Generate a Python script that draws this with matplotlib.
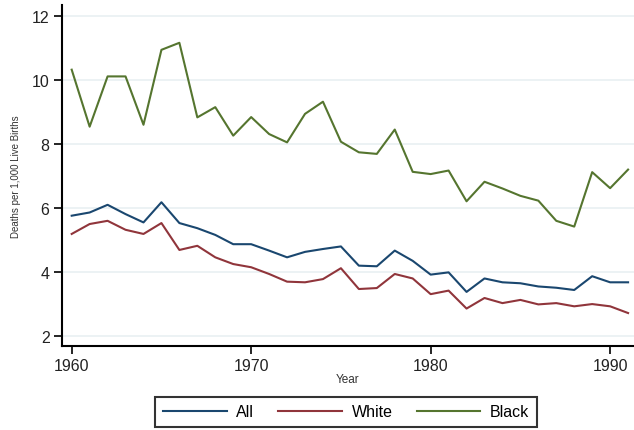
import matplotlib
matplotlib.use("Agg")
import matplotlib.pyplot as plt

years = list(range(1960, 1992))
all_rate = [5.77, 5.87, 6.11, 5.82, 5.56, 6.19, 5.54, 5.38, 5.17, 4.88, 4.88, 4.68,
            4.47, 4.64, 4.73, 4.81, 4.21, 4.19, 4.68, 4.36, 3.93, 4.00, 3.39, 3.81,
            3.69, 3.66, 3.56, 3.52, 3.45, 3.88, 3.69, 3.69]
white_rate = [5.20, 5.51, 5.61, 5.33, 5.20, 5.54, 4.70, 4.83, 4.47, 4.26, 4.16, 3.95,
              3.71, 3.69, 3.79, 4.13, 3.48, 3.51, 3.95, 3.81, 3.32, 3.43, 2.87, 3.20,
              3.04, 3.14, 3.00, 3.04, 2.94, 3.01, 2.94, 2.73]
black_rate = [10.33, 8.55, 10.12, 10.12, 8.61, 10.95, 11.17, 8.84, 9.16, 8.27, 8.85, 8.32,
              8.06, 8.95, 9.33, 8.08, 7.75, 7.70, 8.46, 7.14, 7.07, 7.18, 6.22, 6.83,
              6.62, 6.39, 6.24, 5.61, 5.43, 7.13, 6.63, 7.21]
series_labels = ["All", "White", "Black"]
x_ticks = [1960, 1970, 1980, 1990]
y_ticks = [2, 4, 6, 8, 10, 12]

plt.rcParams['font.family'] = ['Liberation Sans', 'DejaVu Sans']

W, H = 634, 431
fig = plt.figure(figsize=(W / 100, H / 100), dpi=100)
ax = fig.add_axes([62 / W, 1 - 346.7 / H, (634 - 62) / W, (346.7 - 6) / H])

colors = ["#1a476f", "#90353b", "#55752f"]
for vals, lab, c in zip([all_rate, white_rate, black_rate], series_labels, colors):
    ax.plot(years, vals, color=c, lw=1.5, label=lab, zorder=3)

ax.set_xlim(1959.46, 1991.33)
ax.set_ylim(1.71, 12.35)
ax.set_xticks(x_ticks)
ax.set_yticks(y_ticks)
ax.yaxis.grid(True, color="#eaf1f3", lw=1.3, zorder=0)
ax.set_axisbelow(True)

for s in ["top", "right"]:
    ax.spines[s].set_visible(False)
for s in ["left", "bottom"]:
    ax.spines[s].set_linewidth(1.5)
    ax.spines[s].set_color("black")

ax.tick_params(axis="both", direction="out", length=6, width=1.2, labelsize=11.5,
               colors="black", labelcolor="#222222", pad=3)

ax.set_ylabel("Deaths per 1,000 Live Births", fontsize=7, color="#333333")
ax.yaxis.set_label_coords(-0.071, 0.5)
ax.set_xlabel("Year", fontsize=8.5, color="#333333")
ax.xaxis.set_label_coords(0.5, -0.080)

leg = fig.legend(loc="center", bbox_to_anchor=(346 / W, 1 - 413 / H), ncol=3,
                 fontsize=11.5, frameon=True, fancybox=False, handlelength=4.0,
                 handletextpad=0.6, columnspacing=1.5, borderpad=0.5)
leg.get_frame().set_edgecolor("black")
leg.get_frame().set_linewidth(1.5)

fig.savefig("out.png", dpi=100, facecolor="white")
